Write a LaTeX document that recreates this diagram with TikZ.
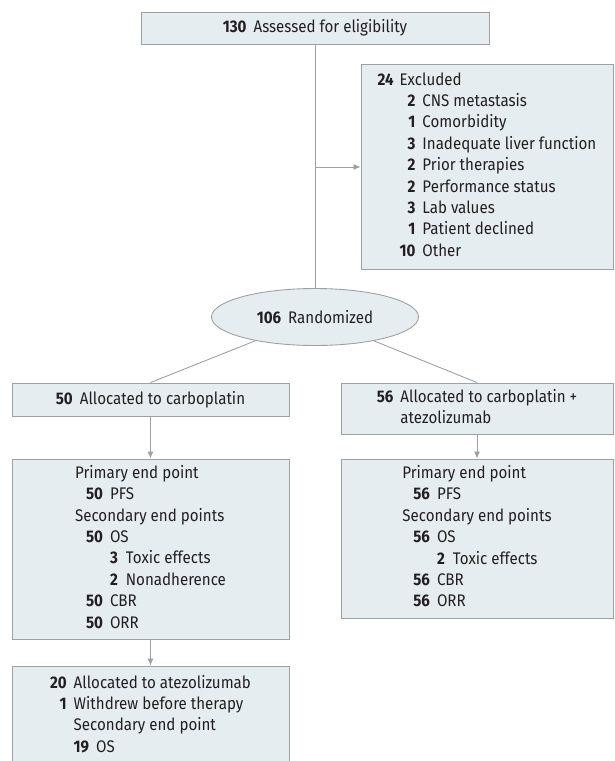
\documentclass[tikz,border=0pt]{standalone}
\usepackage{fontspec}
\setmainfont{Fira Sans}[FakeStretch=0.9]
\usetikzlibrary{shapes.geometric,arrows.meta}

\definecolor{boxfill}{RGB}{230,237,241}
\definecolor{boxline}{RGB}{158,161,164}
\definecolor{txt}{RGB}{35,31,32}
\newcommand{\nb}[1]{\textbf{#1}}

\tikzset{
	box/.style={draw=boxline, fill=boxfill, line width=0.9pt, inner sep=0pt, text=txt,
		font=\fontsize{16.8}{21.4}\selectfont},
	link/.style={draw=boxline, line width=0.9pt},
	arrow/.style={link, -{Latex[length=7pt,width=6pt]}},
}

\begin{document}
\begin{tikzpicture}[x=1pt, y=-1pt]
		\useasboundingbox (0,0) rectangle (614,761);

		\node (assess)[box, minimum width=348pt, minimum height=32pt]at (315,28)
			{\nb{130}\hspace{7pt}Assessed for eligibility};
		\node (excl)[box, minimum width=252pt, minimum height=205pt]at (487,166.5)
			{\begin{tabular}{@{}r@{\hspace{6pt}}r@{\hspace{7pt}}l@{}}
				\nb{24} & \multicolumn{2}{@{}l@{}}{Excluded}\\
				& \nb{2} & CNS metastasis\\
				& \nb{1} & Comorbidity\\
				& \nb{3} & Inadequate liver function\\
				& \nb{2} & Prior therapies\\
				& \nb{2} & Performance status\\
				& \nb{3} & Lab values\\
				& \nb{1} & Patient declined\\
				& \nb{10} & Other
			\end{tabular}};
		\node (rand)[box, ellipse, minimum width=207pt, minimum height=57pt]at (315,317)
			{\nb{106}\hspace{7pt}Randomized};

		\node (alloc1)[box, minimum width=277pt, minimum height=33pt]at (150.5,399.5)
			{\nb{50}\hspace{7pt}Allocated to carboplatin};
		\node (alloc2)[box, minimum width=272pt, minimum height=51pt]at (477,408.5)
			{\begin{tabular}{@{}r@{\hspace{7pt}}l@{}}
				\nb{56} & Allocated to carboplatin +\\
				& atezolizumab
			\end{tabular}};

		\node (end1)[box, minimum width=277pt, minimum height=180pt]at (150.5,549)
			{\begin{tabular}{@{}r@{\hspace{7pt}}r@{\hspace{8pt}}l@{}}
				\multicolumn{3}{@{}l@{}}{Primary end point}\\
				\hspace{11pt}\nb{50} & \multicolumn{2}{@{}l@{}}{PFS}\\
				\multicolumn{3}{@{}l@{}}{Secondary end points}\\
				\nb{50} & \multicolumn{2}{@{}l@{}}{OS}\\
				& \nb{3} & Toxic effects\\
				& \nb{2} & Nonadherence\\
				\nb{50} & \multicolumn{2}{@{}l@{}}{CBR}\\
				\nb{50} & \multicolumn{2}{@{}l@{}}{ORR}
			\end{tabular}};
		\node (end2)[box, minimum width=272pt, minimum height=159pt]at (477,538.5)
			{\begin{tabular}{@{}r@{\hspace{7pt}}r@{\hspace{8pt}}l@{}}
				\multicolumn{3}{@{}l@{}}{Primary end point}\\
				\hspace{11pt}\nb{56} & \multicolumn{2}{@{}l@{}}{PFS}\\
				\multicolumn{3}{@{}l@{}}{Secondary end points}\\
				\nb{56} & \multicolumn{2}{@{}l@{}}{OS}\\
				& \nb{2} & Toxic effects\\
				\nb{56} & \multicolumn{2}{@{}l@{}}{CBR}\\
				\nb{56} & \multicolumn{2}{@{}l@{}}{ORR}
			\end{tabular}};

		\node (atezo)[box, minimum width=277pt, minimum height=100pt]at (150.5,716)
			{\begin{tabular}{@{}r@{\hspace{7pt}}l@{}}
				\nb{20} & Allocated to atezolizumab\\
				\nb{1} & Withdrew before therapy\\
				& Secondary end point\\
				& \nb{19}\hspace{7pt}OS
			\end{tabular}};

		\coordinate (split) at (315,167);

		\draw [link](assess)--(rand);
		\draw [arrow](split)--(split -| excl.west);
		\draw [link](rand)--(alloc1.north);
		\draw [link](rand)--(alloc2.north);
		\draw [arrow](alloc1)--(end1);
		\draw [arrow](alloc2)--(end2);
		\draw [arrow](end1)--(atezo);
	\end{tikzpicture}
\end{document}
